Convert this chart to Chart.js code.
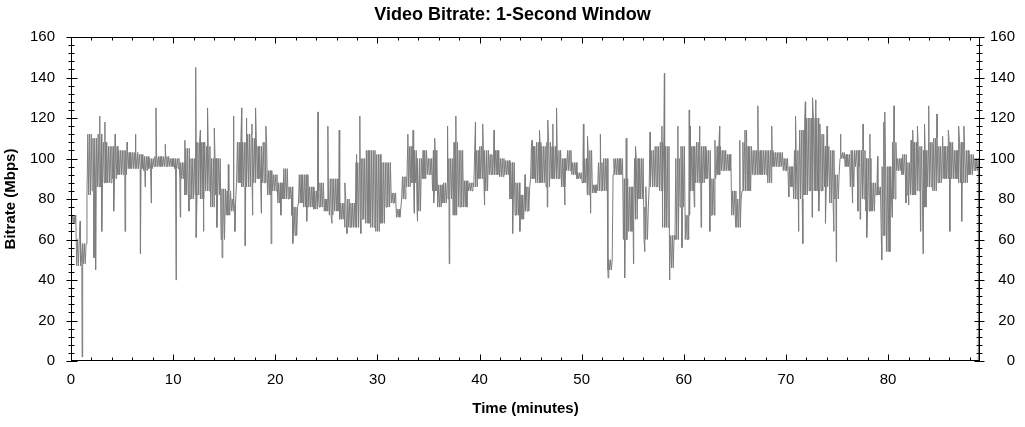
<!DOCTYPE html>
<html><head><meta charset="utf-8">
<script src="https://cdn.jsdelivr.net/npm/chart.js@4"></script>
<style>html,body{margin:0;padding:0;background:#fff}#wrap{width:1025px;height:427px}</style>
</head><body><div id="wrap"><canvas id="c" width="1025" height="427"></canvas></div>
<script>
const chartTitle = 'Video Bitrate: 1-Second Window';
const xAxisTitle = 'Time (minutes)';
const yAxisTitle = 'Bitrate (Mbps)';
const xTickLabels = [0, 10, 20, 30, 40, 50, 60, 70, 80];
const yTickLabels = [0, 20, 40, 60, 80, 100, 120, 140, 160];
const xMax = 89;
const xMinorStep = 2;
const yMinorStep = 4;

// dense core band, read every ~0.5 minute (low edge / high edge)
const bandStartMinutes = 0.05;
const bandStepMinutes = 0.505;
const bandLowMbps = [
  68, 47, 48, 82, 84, 86, 88, 88, 90, 92,
  92, 95, 95, 95, 94, 95, 96, 96, 96, 96,
  95, 90, 82, 80, 82, 80, 84, 76, 82, 60,
  72, 74, 88, 86, 86, 88, 90, 88, 82, 84,
  78, 80, 80, 62, 78, 76, 76, 75, 76, 74,
  72, 74, 70, 66, 66, 66, 70, 68, 66, 64,
  68, 76, 78, 71, 80, 86, 88, 74, 90, 92,
  84, 76, 78, 80, 72, 76, 76, 84, 86, 90,
  84, 92, 92, 91, 92, 80, 72, 70, 74, 90,
  88, 88, 86, 90, 90, 86, 94, 92, 90, 88,
  82, 83, 84, 84, 45, 92, 92, 60, 64, 70,
  80, 60, 86, 86, 84, 66, 46, 60, 76, 60,
  84, 88, 88, 90, 72, 92, 94, 94, 72, 66,
  84, 84, 92, 92, 92, 88, 96, 96, 94, 86,
  80, 80, 82, 84, 84, 84, 86, 78, 80, 100,
  96, 86, 96, 80, 74, 74, 82, 62, 54, 80,
  94, 92, 82, 82, 84, 76, 86, 84, 88, 90,
  90, 90, 88, 88, 92, 94
];
const bandHighMbps = [
  72, 60, 58, 112, 110, 112, 108, 106, 106, 104,
  104, 103, 103, 102, 101, 100, 101, 101, 101, 100,
  100, 98, 105, 100, 108, 108, 106, 100, 100, 85,
  84, 80, 108, 108, 112, 110, 106, 108, 94, 92,
  88, 95, 86, 76, 92, 92, 86, 84, 88, 80,
  90, 90, 78, 80, 78, 98, 100, 104, 104, 102,
  98, 98, 83, 75, 91, 106, 104, 100, 104, 100,
  104, 87, 88, 100, 108, 104, 89, 88, 104, 106,
  104, 102, 104, 100, 99, 98, 88, 82, 86, 106,
  108, 106, 108, 106, 104, 100, 104, 98, 93, 100,
  104, 87, 98, 100, 50, 100, 100, 90, 86, 100,
  100, 76, 104, 106, 108, 106, 62, 100, 106, 72,
  106, 108, 106, 104, 90, 106, 104, 102, 84, 80,
  108, 106, 104, 104, 104, 104, 103, 103, 100, 96,
  104, 114, 120, 120, 120, 112, 106, 104, 92, 103,
  102, 104, 104, 104, 100, 88, 86, 96, 96, 108,
  100, 102, 98, 108, 106, 104, 108, 110, 106, 106,
  108, 104, 108, 104, 102, 100
];

// isolated one-second spikes and dips
const spikeMinutes = [
  0.89, 1.09, 2.25, 2.41, 2.81, 3.01, 3.32, 4.18, 4.33, 5.29,
  5.49, 6.30, 6.80, 7.26, 7.86, 8.32, 9.23, 10.29, 10.70, 11.15,
  11.55, 12.21, 12.26, 12.67, 12.97, 13.37, 14.03, 14.28, 14.79, 15.40,
  15.90, 16.05, 16.71, 17.06, 17.16, 17.72, 17.77, 18.07, 18.63, 19.08,
  19.59, 20.55, 21.61, 21.71, 23.08, 24.19, 25.15, 25.55, 26.26, 26.82,
  27.02, 27.93, 28.28, 28.38, 32.98, 33.49, 33.59, 33.89, 35.51, 35.61,
  36.87, 37.03, 37.68, 39.60, 40.31, 40.46, 41.42, 43.24, 43.95, 44.46,
  45.16, 45.87, 46.63, 46.68, 47.18, 47.54, 48.35, 50.17, 50.57, 50.87,
  51.83, 52.59, 54.21, 54.36, 55.07, 55.27, 56.18, 56.28, 56.69, 57.85,
  57.90, 58.10, 58.61, 59.42, 59.82, 60.53, 60.63, 61.03, 61.54, 61.69,
  62.55, 63.05, 63.51, 65.08, 65.48, 65.99, 66.14, 67.25, 68.61, 70.28,
  70.94, 71.24, 71.65, 71.90, 72.56, 72.61, 72.91, 73.21, 73.32, 73.87,
  74.02, 74.68, 74.93, 75.34, 76.50, 77.05, 77.26, 77.56, 77.91, 78.22,
  78.97, 79.38, 79.58, 79.68, 80.39, 80.59, 81.75, 82.01, 82.26, 82.41,
  82.87, 83.17, 83.42, 83.57, 83.98, 84.79, 85.34, 85.90, 86.05, 86.91,
  87.21, 87.42
];
const spikeMbps = [
  69, 2, 51, 45, 121, 64, 118, 74, 112, 64,
  108, 112, 53, 86, 78, 125, 107, 40, 71, 109,
  74, 145, 61, 114, 64, 125, 115, 66, 51, 97,
  121, 64, 125, 57, 120, 117, 72, 125, 73, 116,
  58, 72, 72, 58, 69, 123, 116, 68, 114, 88,
  63, 102, 121, 63, 112, 114, 73, 69, 78, 110,
  116, 48, 121, 118, 117, 77, 114, 63, 64, 92,
  109, 114, 76, 119, 117, 125, 77, 117, 111, 73,
  112, 41, 41, 110, 48, 106, 54, 86, 113, 116,
  66, 142, 40, 116, 56, 124, 116, 76, 116, 66,
  64, 109, 116, 66, 109, 114, 114, 126, 116, 81,
  121, 64, 58, 128, 71, 130, 129, 74, 117, 68,
  116, 64, 49, 112, 78, 74, 70, 117, 61, 112,
  101, 50, 118, 123, 71, 126, 78, 77, 109, 114,
  116, 64, 53, 117, 126, 122, 111, 114, 64, 116,
  69, 116
];
const headMinutes = [0.04];
const headMbps = [0];
const tailMinutes = [88.84, 88.86];
const tailMbps = [96, 0];

const FONT = "'Liberation Sans', Arial, sans-serif";

// build the point table: each band sample drawn as an alternating low/high wiggle
const wiggleOffsets = [0, 0.084, 0.168, 0.252, 0.336, 0.42];
const points = [];
for (let i = 0; i < bandLowMbps.length; i++) {
  const t = bandStartMinutes + i * bandStepMinutes;
  wiggleOffsets.forEach((o, k) => {
    points.push({x: t + o, y: k % 2 === 0 ? bandLowMbps[i] : bandHighMbps[i]});
  });
}
spikeMinutes.forEach((m, i) => points.push({x: m, y: spikeMbps[i]}));
points.sort((a, b) => a.x - b.x);
headMinutes.forEach((m, i) => points.unshift({x: m, y: headMbps[i]}));
tailMinutes.forEach((m, i) => points.push({x: m, y: tailMbps[i]}));

const frameTicks = {
  id: 'frameTicks',
  afterDatasetsDraw(chart) {
    const {ctx, chartArea: a, scales} = chart;
    const xs = scales.x, ys = scales.y;
    const L = Math.round(a.left) + 0.5, R = Math.round(a.right) - 0.5;
    const T = Math.round(a.top) + 0.5, B = Math.round(a.bottom) - 0.5;
    ctx.save();
    ctx.strokeStyle = '#000';
    ctx.lineWidth = 1;
    ctx.strokeRect(L, T, R - L, B - T);
    ctx.beginPath();
    for (let k = 0; k * xMinorStep <= xMax; k++) {
      const v = k * xMinorStep;
      const px = Math.round(xs.getPixelForValue(v)) + 0.5;
      const major = xTickLabels.includes(v);
      ctx.moveTo(px, B); ctx.lineTo(px, B - (major ? 6 : 3));
      ctx.moveTo(px, T); ctx.lineTo(px, T + (major ? 6 : 3));
    }
    for (let k = 0; k * yMinorStep <= 160; k++) {
      const v = k * yMinorStep;
      const py = Math.round(ys.getPixelForValue(v)) + 0.5;
      const major = yTickLabels.includes(v);
      ctx.moveTo(L - (major ? 5 : 3), py); ctx.lineTo(L + (major ? 6 : 3), py);
      ctx.moveTo(R - (major ? 5 : 3), py); ctx.lineTo(R + (major ? 5 : 3), py);
    }
    ctx.stroke();
    ctx.restore();
  }
};

new Chart(document.getElementById('c'), {
  type: 'line',
  data: {
    datasets: [{
      data: points,
      borderColor: 'rgb(125,125,125)',
      borderWidth: 1,
      pointRadius: 0,
      tension: 0,
      fill: false
    }]
  },
  options: {
    animation: false,
    responsive: false,
    devicePixelRatio: 1,
    layout: {padding: {left: 10, right: 10, top: 0, bottom: 0}},
    plugins: {
      legend: {display: false},
      tooltip: {enabled: false},
      title: {
        display: true, text: chartTitle, color: '#000',
        font: {family: FONT, size: 18, weight: 'bold'},
        padding: {top: 4, bottom: 11.4}
      }
    },
    scales: {
      x: {
        type: 'linear', position: 'bottom', min: 0, max: xMax,
        grid: {display: false, drawTicks: false}, border: {display: false},
        afterBuildTicks: s => { s.ticks = xTickLabels.map(v => ({value: v})); },
        afterFit: s => { s.height = 66; },
        ticks: {color: '#000', font: {family: FONT, size: 15}, padding: 10, maxRotation: 0, autoSkip: false},
        title: {display: true, text: xAxisTitle, color: '#000',
          font: {family: FONT, size: 15, weight: 'bold'}, padding: {top: 0, bottom: 9}}
      },
      y: {
        type: 'linear', position: 'left', min: 0, max: 160,
        grid: {display: false, drawTicks: false}, border: {display: false},
        afterBuildTicks: s => { s.ticks = yTickLabels.map(v => ({value: v})); },
        afterFit: s => { s.width = 61; },
        ticks: {color: '#000', font: {family: FONT, size: 15}, padding: 16},
        title: {display: true, text: yAxisTitle, color: '#000',
          font: {family: FONT, size: 15, weight: 'bold', lineHeight: 1}, padding: {top: -6.5, bottom: 0}}
      },
      y2: {
        type: 'linear', position: 'right', min: 0, max: 160, display: true,
        grid: {display: false, drawTicks: false}, border: {display: false},
        afterBuildTicks: s => { s.ticks = yTickLabels.map(v => ({value: v})); },
        afterFit: s => { s.width = 35; },
        ticks: {color: '#000', font: {family: FONT, size: 15}, crossAlign: 'far'}
      }
    }
  },
  plugins: [frameTicks]
});
</script>
</body></html>
